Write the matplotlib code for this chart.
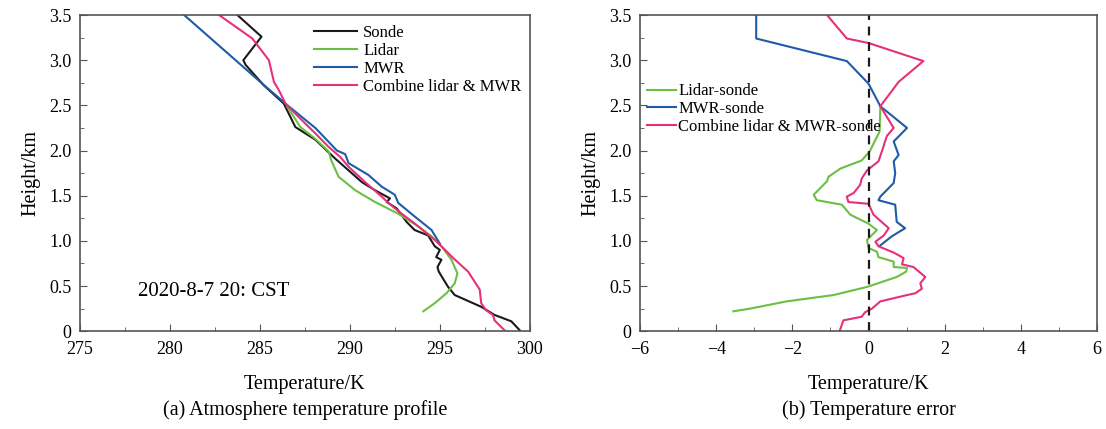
import matplotlib.pyplot as plt
import numpy as np

plt.rcParams['font.family'] = ['Liberation Serif', 'DejaVu Serif']

# (a) temperature profiles: temperature (K), height (km)
sonde_t = [283.75, 285.09, 284.08, 284.2, 285.2, 286.33, 286.97, 288.08, 289.19, 289.93, 290.67,
           291.4, 292.23, 292.05, 292.6, 293.15, 293.6, 294.35, 294.72, 295.0, 294.8, 295.09,
           294.87, 294.94, 295.46, 295.83, 297.3, 298.04, 298.97, 299.43]
sonde_h = [3.5, 3.26, 3.0, 2.95, 2.725, 2.52, 2.26, 2.12, 1.91, 1.78, 1.65,
           1.56, 1.47, 1.43, 1.36, 1.21, 1.12, 1.06, 0.94, 0.90, 0.82, 0.79,
           0.71, 0.66, 0.49, 0.40, 0.27, 0.18, 0.11, 0.013]

lidar_t = [286.51, 287.25, 288.08, 288.82, 288.97, 289.37, 290.3, 291.4, 292.69, 293.8, 294.54,
           295.09, 295.65, 295.98, 295.83, 295.37, 294.72, 294.08]
lidar_h = [2.49, 2.26, 2.13, 1.99, 1.89, 1.71, 1.56, 1.43, 1.30, 1.16, 1.05,
           0.94, 0.79, 0.64, 0.53, 0.42, 0.31, 0.22]

mwr_t = [280.79, 285.22, 286.6, 288.08, 289.28, 289.74, 289.93, 291.03, 291.77, 292.5, 292.69,
         293.6, 294.54, 295.0]
mwr_h = [3.5, 2.725, 2.49, 2.25, 2.0, 1.96, 1.86, 1.73, 1.60, 1.51, 1.42,
         1.27, 1.12, 0.97]

comb_t = [282.73, 284.58, 285.5, 285.78, 286.05, 286.42, 287.16, 288.08, 288.82, 289.46, 289.93,
          290.85, 291.77, 292.14, 292.88, 293.62, 294.72, 295.09, 295.74, 296.57, 297.22, 297.3,
          297.58, 297.95, 298.04, 298.6]
comb_h = [3.5, 3.24, 3.0, 2.76, 2.67, 2.52, 2.37, 2.19, 2.04, 1.93, 1.82,
          1.65, 1.49, 1.42, 1.30, 1.19, 1.01, 0.94, 0.81, 0.66, 0.46, 0.31,
          0.23, 0.18, 0.12, 0.01]

# (b) errors: temperature error (K), height (km)
mwr_err = [-2.95, -2.95, -0.57, 0.0, 0.31, 1.01, 0.66, 0.79, 0.66, 0.70, 0.66, 0.31, 0.26,
           0.70, 0.74, 0.96, 0.61, 0.31]
mwr_err_h = [3.5, 3.24, 2.99, 2.74, 2.49, 2.25, 2.10, 1.95, 1.88, 1.75, 1.64, 1.49, 1.45,
             1.40, 1.21, 1.14, 1.05, 0.95]

lidar_err = [0.31, 0.29, 0.03, -0.18, -0.74, -1.05, -1.09, -1.44, -1.36, -0.70, -0.48, 0.0,
             0.22, -0.04, 0.0, 0.22, 0.26, 0.66, 0.66, 1.01, 0.99, 0.74, -0.04, -0.92, -2.15,
             -3.11, -3.55]
lidar_err_h = [2.49, 2.21, 1.99, 1.89, 1.80, 1.71, 1.66, 1.51, 1.45, 1.40, 1.29, 1.19,
               1.12, 1.01, 0.92, 0.88, 0.82, 0.77, 0.71, 0.70, 0.66, 0.60, 0.49, 0.40, 0.33,
               0.25, 0.22]

comb_err = [-1.09, -0.57, 0.0, 1.44, 0.79, 0.31, 0.66, 0.48, 0.35, 0.26, -0.04, -0.18, -0.22,
            -0.39, -0.57, -0.53, 0.0, 0.13, 0.53, 0.40, 0.18, 0.26, 0.66, 0.92, 0.88, 1.18,
            1.49, 1.36, 1.40, 1.23, 1.01, 0.31, 0.09, -0.09, -0.18, -0.66, -0.76]
comb_err_h = [3.5, 3.24, 3.19, 2.99, 2.76, 2.49, 2.25, 2.16, 1.99, 1.88, 1.78, 1.69, 1.62,
              1.53, 1.49, 1.43, 1.41, 1.29, 1.14, 1.06, 0.99, 0.94, 0.87, 0.81, 0.74, 0.71,
              0.60, 0.53, 0.47, 0.42, 0.40, 0.33, 0.25, 0.21, 0.16, 0.12, 0.0]

black = '#1a1a1a'
green = '#6cbf45'
blue = '#1e5ba8'
pink = '#e6307a'
frame = '#555555'

fig = plt.figure(figsize=(11.06, 4.29), dpi=100)
ax1 = fig.add_axes([0.0723, 0.228, 0.4067, 0.737])
ax2 = fig.add_axes([0.5787, 0.228, 0.4132, 0.737])

lw = 1.5
ax1.plot(sonde_t, sonde_h, color=black, lw=lw, label='Sonde')
ax1.plot(lidar_t, lidar_h, color=green, lw=lw, label='Lidar')
ax1.plot(mwr_t, mwr_h, color=blue, lw=lw, label='MWR')
ax1.plot(comb_t, comb_h, color=pink, lw=lw, label='Combine lidar & MWR')
ax1.set_xlim(275, 300)
ax1.set_xticks(np.arange(275, 301, 5))
ax1.set_xticks(np.arange(277.5, 300, 5), minor=True)
ax1.text(278.2, 0.44, '2020-8-7 20: CST', fontsize=15, va='center', ha='left')
ax1.legend(loc='upper right', bbox_to_anchor=(1.0, 0.995), frameon=False, fontsize=12,
           handlelength=2.6, labelspacing=0.12, borderaxespad=0.1, handletextpad=0.35)

ax2.plot(lidar_err, lidar_err_h, color=green, lw=lw, label='Lidar-sonde')
ax2.plot(mwr_err, mwr_err_h, color=blue, lw=lw, label='MWR-sonde')
ax2.plot(comb_err, comb_err_h, color=pink, lw=lw, label='Combine lidar & MWR-sonde')
ax2.axvline(0, color=black, lw=1.6, ls=(0, (4, 3)))
ax2.set_xlim(-6, 6)
ax2.set_xticks(np.arange(-6, 7, 2))
ax2.set_xticks(np.arange(-5, 6, 2), minor=True)
ax2.set_xticklabels(['\u22126', '\u22124', '\u22122', '0', '2', '4', '6'])
ax2.legend(loc='upper left', bbox_to_anchor=(0.0, 0.805), frameon=False, fontsize=12,
           handlelength=1.75, labelspacing=0.1, borderaxespad=0.0, handletextpad=0.15)

for ax, cap in [(ax1, '(a) Atmosphere temperature profile'), (ax2, '(b) Temperature error')]:
    ax.set_ylim(0, 3.5)
    ax.set_yticks(np.arange(0, 3.51, 0.5))
    ax.set_yticks(np.arange(0.25, 3.5, 0.5), minor=True)
    ax.set_yticklabels(['0', '0.5', '1.0', '1.5', '2.0', '2.5', '3.0', '3.5'])
    ax.tick_params(which='both', direction='in', labelsize=13, color=frame)
    ax.tick_params(which='major', length=5, pad=6)
    ax.tick_params(axis='x', which='major', pad=7)
    ax.tick_params(which='minor', length=3)
    for s in ax.spines.values():
        s.set_color(frame)
        s.set_linewidth(1.2)
    ax.set_ylabel('Height/km', fontsize=14.5, labelpad=6)
    ax.set_xlabel('Temperature/K', fontsize=14.5, labelpad=12)
    ax.text(0.5, -0.25, cap, transform=ax.transAxes, ha='center', va='center', fontsize=14.5)

fig.savefig('out.png', dpi=100)
